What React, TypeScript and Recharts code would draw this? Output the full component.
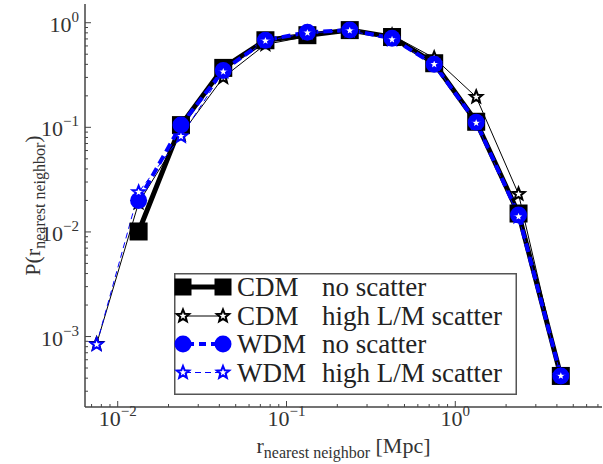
import React from "react";
import {
  LineChart,
  Line,
  XAxis,
  YAxis,
  Legend,
} from "recharts";

// nearest-neighbour distance bins [Mpc]
const rValues = [0.0075, 0.0133, 0.0237, 0.0422, 0.075, 0.133, 0.237, 0.422, 0.75, 1.33, 2.37, 4.22];

const cdmNoScatter = [null, 0.0101, 0.105, 0.37, 0.68, 0.76, 0.85, 0.73, 0.41, 0.113, 0.015, 0.00042];
const cdmHighScatter = [0.00085, 0.019, 0.085, 0.3, 0.62, 0.74, 0.84, 0.76, 0.46, 0.195, 0.023, 0.00042];
const wdmNoScatter = [null, 0.02, 0.105, 0.35, 0.68, 0.81, 0.85, 0.71, 0.4, 0.112, 0.0145, 0.00042];
const wdmHighScatter = [0.00084, 0.024, 0.082, 0.34, 0.67, 0.8, 0.84, 0.69, 0.4, 0.11, 0.014, 0.00042];

const legendModels = ["CDM", "CDM", "WDM", "WDM"];
const legendScatter = ["no scatter", "high L/M scatter", "no scatter", "high L/M scatter"];

const xDomain = [0.0064, 7.4];
const yDomain = [2.12e-4, 1.51];

const data = rValues.map((r, i) => ({
  r,
  cdmNo: cdmNoScatter[i],
  cdmHigh: cdmHighScatter[i],
  wdmNo: wdmNoScatter[i],
  wdmHigh: wdmHighScatter[i],
}));

// decade + minor ticks inside a domain
function logTicks(lo: number, hi: number) {
  const out: number[] = [];
  for (let e = -5; e <= 2; e++) {
    for (let m = 1; m <= 9; m++) {
      const v = Number((m * Math.pow(10, e)).toPrecision(3));
      if (v >= lo && v <= hi) out.push(v);
    }
  }
  return out;
}
const xTicks = logTicks(xDomain[0], xDomain[1]);
const yTicks = logTicks(yDomain[0], yDomain[1]);

const FONT = "Liberation Serif, DejaVu Serif, serif";
const SPINE = "#444";
const BLUE = "#0000ff";

const decadeExp = (v: number) => {
  const e = Math.log10(v);
  return Math.abs(e - Math.round(e)) < 1e-6 ? Math.round(e) : null;
};
const expText = (e: number) => (e < 0 ? "\u2212" + Math.abs(e) : String(e));

function Pow10({ x, y, e, anchor }: any) {
  return (
    <text x={x} y={y} textAnchor={anchor} style={{ fontFamily: FONT }} fontSize={22} fill="#333">
      <tspan>10</tspan>
      <tspan dy={-10} fontSize={15}>{expText(e)}</tspan>
    </text>
  );
}

const BottomTick = (props: any) => {
  const { x, y, payload } = props;
  const e = decadeExp(payload.value);
  return (
    <g>
      <line x1={x} x2={x} y1={y} y2={y - (e !== null ? 6 : 3)} stroke={SPINE} strokeWidth={1} />
      {e !== null && <Pow10 x={x} y={y + 19} e={e} anchor="middle" />}
    </g>
  );
};

const TopTick = (props: any) => {
  const { x, y, payload } = props;
  const e = decadeExp(payload.value);
  return <line x1={x} x2={x} y1={y} y2={y + (e !== null ? 6 : 3)} stroke={SPINE} strokeWidth={1} />;
};

const LeftTick = (props: any) => {
  const { x, y, payload } = props;
  const e = decadeExp(payload.value);
  return (
    <g>
      <line x1={x} x2={x + (e !== null ? 6 : 3)} y1={y} y2={y} stroke={SPINE} strokeWidth={1} />
      {e !== null && <Pow10 x={x - 6} y={y + 9} e={e} anchor="end" />}
    </g>
  );
};

const RightTick = (props: any) => {
  const { x, y, payload } = props;
  const e = decadeExp(payload.value);
  return <line x1={x} x2={x - (e !== null ? 6 : 3)} y1={y} y2={y} stroke={SPINE} strokeWidth={1} />;
};

const XTitle = (props: any) => {
  const { viewBox } = props;
  const cx = viewBox.x + viewBox.width / 2;
  return (
    <text x={cx} y={viewBox.y + 46} textAnchor="middle" style={{ fontFamily: FONT }} fontSize={22} fill="#333">
      <tspan>r</tspan>
      <tspan dy={5} fontSize={16}>nearest neighbor</tspan>
      <tspan dy={-5}> [Mpc]</tspan>
    </text>
  );
};

const YTitle = (props: any) => {
  const { viewBox } = props;
  const cy = viewBox.y + viewBox.height / 2;
  const cx = 40;
  return (
    <text
      x={cx}
      y={cy}
      textAnchor="middle"
      transform={`rotate(-90 ${cx} ${cy})`}
      style={{ fontFamily: FONT }}
      fontSize={22}
      fill="#333"
    >
      <tspan>P(r</tspan>
      <tspan dy={5} fontSize={16}>nearest neighbor</tspan>
      <tspan dy={-5}>)</tspan>
    </text>
  );
};

// marker shapes
const starPoints = (cx: number, cy: number, ro: number, ri: number) => {
  const pts: string[] = [];
  for (let k = 0; k < 10; k++) {
    const a = -Math.PI / 2 + (k * Math.PI) / 5;
    const rr = k % 2 === 0 ? ro : ri;
    pts.push(`${cx + rr * Math.cos(a)},${cy + rr * Math.sin(a)}`);
  }
  return pts.join(" ");
};

const Square = ({ cx, cy, s = 18 }: any) => (
  <rect x={cx - s / 2} y={cy - s / 2} width={s} height={s} fill="#000" />
);
const Dot = ({ cx, cy, r = 8.5 }: any) => <circle cx={cx} cy={cy} r={r} fill={BLUE} />;
const Star = ({ cx, cy, color }: any) => (
  <polygon points={starPoints(cx, cy, 6.5, 2.8)} fill="#fff" stroke={color} strokeWidth={2} strokeLinejoin="miter" />
);

const mk = (render: (cx: number, cy: number) => React.ReactElement) => (p: any) => {
  if (p.cx == null || p.cy == null || p.value == null) return <g key={`n${p.index}`} />;
  return <g key={`m${p.index}`}>{render(p.cx, p.cy)}</g>;
};

const LegendBox = () => {
  const rowY = [14, 43, 71, 99.5];
  const x1 = 9;
  const x2 = 49;
  return (
    <svg width={343} height={122} style={{ display: "block" }}>
      <rect x={0.75} y={0.75} width={341.5} height={120.5} fill="#fff" stroke="#555" strokeWidth={1.5} />
      {rowY.map((y, i) => (
        <g key={i}>
          {i === 0 && (
            <g>
              <line x1={x1} x2={x2} y1={y} y2={y} stroke="#000" strokeWidth={5} />
              <Square cx={x1} cy={y} s={17} />
              <Square cx={x2} cy={y} s={17} />
            </g>
          )}
          {i === 1 && (
            <g>
              <line x1={x1} x2={x2} y1={y} y2={y} stroke="#000" strokeWidth={1} />
              <Star cx={x1} cy={y} color="#000" />
              <Star cx={x2} cy={y} color="#000" />
            </g>
          )}
          {i === 2 && (
            <g>
              <line x1={x1} x2={x2} y1={y} y2={y} stroke={BLUE} strokeWidth={4} strokeDasharray="7 5" strokeDashoffset={-4} />
              <Dot cx={x1} cy={y} />
              <Dot cx={x2} cy={y} />
            </g>
          )}
          {i === 3 && (
            <g>
              <line x1={x1} x2={x2} y1={y} y2={y} stroke={BLUE} strokeWidth={1} strokeDasharray="6 4" strokeDashoffset={-2} />
              <Star cx={x1} cy={y} color={BLUE} />
              <Star cx={x2} cy={y} color={BLUE} />
            </g>
          )}
          <text x={63} y={y + 9} style={{ fontFamily: FONT }} fontSize={27} fill="#222">
            {legendModels[i]}
          </text>
          <text x={148} y={y + 9} style={{ fontFamily: FONT }} fontSize={27} fill="#222">
            {legendScatter[i]}
          </text>
        </g>
      ))}
    </svg>
  );
};

export default function App() {
  return (
    <div style={{ position: "absolute", left: 0, top: 0, width: 603, height: 464, background: "#fff" }}>
      <LineChart width={603} height={464} data={data} margin={{ top: 4, right: 1, bottom: 0, left: 0 }}>
        <XAxis
          xAxisId="b"
          type="number"
          dataKey="r"
          scale="log"
          domain={xDomain}
          allowDataOverflow
          ticks={xTicks}
          interval={0}
          tick={<BottomTick />}
          tickLine={false}
          tickSize={0}
          tickMargin={0}
          height={57}
          axisLine={{ stroke: SPINE, strokeWidth: 1.5 }}
          label={<XTitle />}
        />
        <XAxis
          xAxisId="t"
          orientation="top"
          type="number"
          dataKey="r"
          scale="log"
          domain={xDomain}
          allowDataOverflow
          ticks={xTicks}
          interval={0}
          tick={<TopTick />}
          tickLine={false}
          tickSize={0}
          tickMargin={0}
          height={0}
          axisLine={{ stroke: SPINE, strokeWidth: 1.5 }}
        />
        <YAxis
          yAxisId="l"
          type="number"
          scale="log"
          domain={yDomain}
          allowDataOverflow
          ticks={yTicks}
          interval={0}
          tick={<LeftTick />}
          tickLine={false}
          tickSize={0}
          tickMargin={0}
          width={85}
          axisLine={{ stroke: SPINE, strokeWidth: 1.5 }}
          label={<YTitle />}
        />
        <YAxis
          yAxisId="r"
          orientation="right"
          type="number"
          scale="log"
          domain={yDomain}
          allowDataOverflow
          ticks={yTicks}
          interval={0}
          tick={<RightTick />}
          tickLine={false}
          tickSize={0}
          tickMargin={0}
          width={0}
          axisLine={{ stroke: SPINE, strokeWidth: 1.5 }}
        />
        <Line
          xAxisId="b"
          yAxisId="l"
          dataKey="cdmNo"
          type="linear"
          stroke="#000"
          strokeWidth={5}
          dot={mk((cx, cy) => <Square cx={cx} cy={cy} />)}
          activeDot={false}
          isAnimationActive={false}
        />
        <Line
          xAxisId="b"
          yAxisId="l"
          dataKey="cdmHigh"
          type="linear"
          stroke="#000"
          strokeWidth={1}
          dot={mk((cx, cy) => <Star cx={cx} cy={cy} color="#000" />)}
          activeDot={false}
          isAnimationActive={false}
        />
        <Line
          xAxisId="b"
          yAxisId="l"
          dataKey="wdmNo"
          type="linear"
          stroke={BLUE}
          strokeWidth={4}
          strokeDasharray="9 5"
          dot={mk((cx, cy) => <Dot cx={cx} cy={cy} />)}
          activeDot={false}
          isAnimationActive={false}
        />
        <Line
          xAxisId="b"
          yAxisId="l"
          dataKey="wdmHigh"
          type="linear"
          stroke={BLUE}
          strokeWidth={1}
          strokeDasharray="6 4"
          dot={mk((cx, cy) => <Star cx={cx} cy={cy} color={BLUE} />)}
          activeDot={false}
          isAnimationActive={false}
        />
        <Legend
          layout="vertical"
          align="center"
          verticalAlign="middle"
          content={() => <LegendBox />}
          wrapperStyle={{ left: 174, top: 273, width: 343, height: 122 }}
        />
      </LineChart>
    </div>
  );
}
